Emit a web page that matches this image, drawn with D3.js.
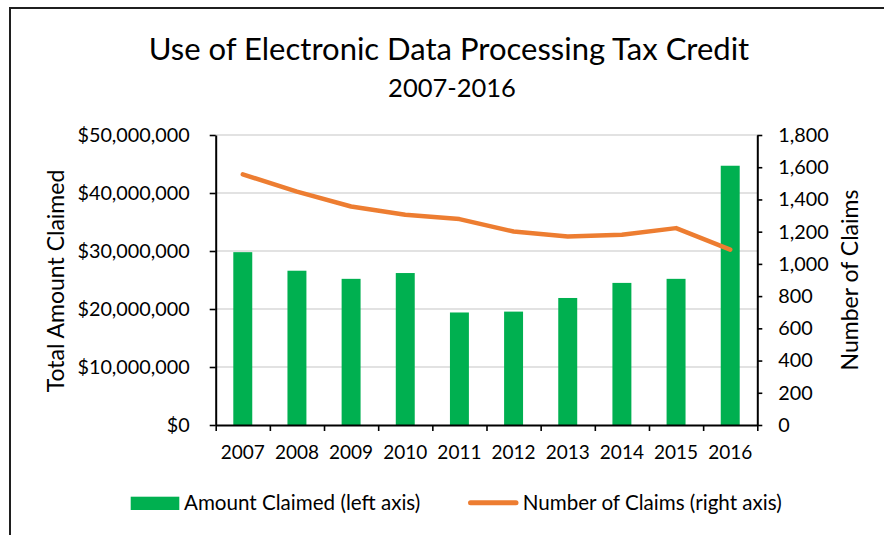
<!DOCTYPE html>
<html>
<head>
<meta charset="utf-8">
<script src="https://cdn.jsdelivr.net/npm/d3@7"></script>
<style>
  html, body { margin: 0; padding: 0; background: #fff; }
  svg { display: block; }
  text { font-family: Lato, "Open Sans", sans-serif; fill: #000; }
</style>
</head>
<body>
<script>
// Electronic data processing tax credit, 2007-2016
const years = ["2007", "2008", "2009", "2010", "2011", "2012", "2013", "2014", "2015", "2016"];
const amountClaimed = [29.8e6, 26.6e6, 25.2e6, 26.2e6, 19.4e6, 19.55e6, 21.9e6, 24.5e6, 25.2e6, 44.7e6];
const numberOfClaims = [1556, 1449, 1356, 1305, 1278, 1201, 1170, 1181, 1222, 1088];
const amountTicks = [0, 10e6, 20e6, 30e6, 40e6, 50e6];
const claimTicks = [0, 200, 400, 600, 800, 1000, 1200, 1400, 1600, 1800];

const W = 884, H = 535;
const plot = { left: 215.7, right: 757.3, top: 135, bottom: 425 };

const svg = d3.select("body").append("svg").attr("width", W).attr("height", H);

// outer chart frame
svg.append("rect")
  .attr("x", 10).attr("y", 8).attr("width", W + 20).attr("height", H + 20)
  .attr("fill", "#fff").attr("stroke", "#1f1f1f").attr("stroke-width", 2);

const x = d3.scaleBand().domain(years).range([plot.left, plot.right]).paddingInner(0).paddingOuter(0);
const xEdges = d3.scaleLinear().domain([0, years.length]).range([plot.left, plot.right]);
const yLeft = d3.scaleLinear().domain([0, 50e6]).range([plot.bottom, plot.top]);
const yRight = d3.scaleLinear().domain([0, 1800]).range([plot.bottom, plot.top]);

// horizontal gridlines on the left-axis ticks
svg.append("g").selectAll("line").data(amountTicks.filter(d => d > 0)).join("line")
  .attr("x1", plot.left).attr("x2", plot.right)
  .attr("y1", d => yLeft(d)).attr("y2", d => yLeft(d))
  .attr("stroke", "#d9d9d9").attr("stroke-width", 1.3);

// bars: amount claimed
const barW = x.bandwidth() * 0.35;
svg.append("g").selectAll("rect").data(years).join("rect")
  .attr("x", (d) => x(d) + x.bandwidth() / 2 - barW / 2)
  .attr("width", barW)
  .attr("y", (d, i) => yLeft(amountClaimed[i]))
  .attr("height", (d, i) => plot.bottom - yLeft(amountClaimed[i]))
  .attr("fill", "#00b050");

// line: number of claims
const line = d3.line()
  .x((d, i) => x(years[i]) + x.bandwidth() / 2)
  .y(d => yRight(d));
svg.append("path").datum(numberOfClaims)
  .attr("d", line)
  .attr("fill", "none").attr("stroke", "#ed7d31")
  .attr("stroke-width", 4.5).attr("stroke-linecap", "round").attr("stroke-linejoin", "round");

const tickFont = "19.8px";

// left axis
const leftAxis = svg.append("g").attr("transform", `translate(${plot.left},0)`)
  .call(d3.axisLeft(yLeft).tickValues(amountTicks).tickFormat(d3.format("$,")).tickSize(6).tickSizeOuter(0).tickPadding(20));
// right axis
const rightAxis = svg.append("g").attr("transform", `translate(${plot.right},0)`)
  .call(d3.axisRight(yRight).tickValues(claimTicks).tickFormat(d3.format(",")).tickSize(5).tickSizeOuter(0).tickPadding(16));
// bottom axis: boundary ticks and year labels
const bottomTicks = svg.append("g").attr("transform", `translate(0,${plot.bottom})`)
  .call(d3.axisBottom(xEdges).tickValues(d3.range(years.length + 1)).tickFormat("").tickSize(6).tickSizeOuter(0));
const bottomLabels = svg.append("g").attr("transform", `translate(0,${plot.bottom})`)
  .call(d3.axisBottom(x).tickSize(0).tickPadding(21));
bottomLabels.select(".domain").remove();

[leftAxis, rightAxis, bottomTicks].forEach(g => {
  g.select(".domain").attr("stroke", "#000").attr("stroke-width", 2);
  g.selectAll(".tick line").attr("stroke", "#000").attr("stroke-width", 1.6);
});
[leftAxis, rightAxis].forEach(g => {
  g.selectAll("text").attr("font-family", null).style("font-size", tickFont).attr("fill", "#000");
});
bottomLabels.selectAll("text").attr("font-family", null).style("font-size", "19px").attr("fill", "#000");

// titles
svg.append("text").attr("x", 449).attr("y", 59.5).attr("text-anchor", "middle")
  .style("font-size", "31px").text("Use of Electronic Data Processing Tax Credit");
svg.append("text").attr("x", 452).attr("y", 97.3).attr("text-anchor", "middle")
  .style("font-size", "25.5px").text("2007-2016");

// axis titles
const midY = (plot.top + plot.bottom) / 2;
svg.append("text").attr("transform", `translate(63.5,${midY + 1}) rotate(-90)`).attr("text-anchor", "middle")
  .style("font-size", "23px").text("Total Amount Claimed");
svg.append("text").attr("transform", `translate(858.3,${midY}) rotate(-90)`).attr("text-anchor", "middle")
  .style("font-size", "23px").text("Number of Claims");

// legend
const legend = svg.append("g");
legend.append("rect").attr("x", 130.7).attr("y", 496.7).attr("width", 48.6).attr("height", 13.3).attr("fill", "#00b050");
legend.append("text").attr("x", 184).attr("y", 509.5).style("font-size", "20.6px").text("Amount Claimed (left axis)");
legend.append("line").attr("x1", 470.5).attr("x2", 516).attr("y1", 502.7).attr("y2", 502.7)
  .attr("stroke", "#ed7d31").attr("stroke-width", 5).attr("stroke-linecap", "round");
legend.append("text").attr("x", 522.7).attr("y", 510).style("font-size", "20.6px").text("Number of Claims (right axis)");
</script>
</body>
</html>
